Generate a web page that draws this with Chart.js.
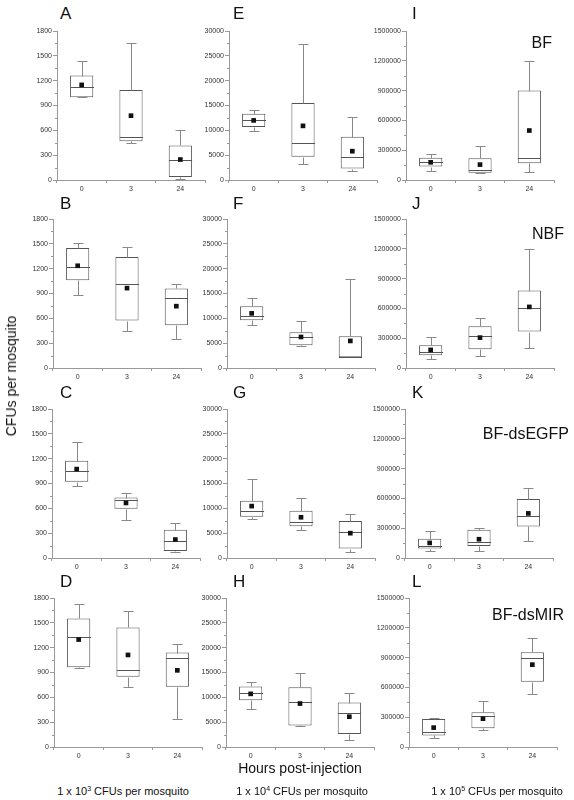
<!DOCTYPE html>
<html>
<head>
<meta charset="utf-8">
<script src="https://cdn.jsdelivr.net/npm/chart.js@4.4.0/dist/chart.umd.min.js"></script>
<style>
    body { margin: 0; background: #fff; font-family: "Liberation Sans", Arial, sans-serif; }
    #page { position: relative; width: 574px; height: 800px; overflow: hidden; }
    #page canvas { position: absolute; }
    .lbl { position: absolute; color: #111; white-space: nowrap; line-height: 1; }
</style>
</head>
<body>
<div id="page"></div>
<script>
// Hours post-injection (x categories)
const hours = ['0', '3', '24'];

// Each row: [min, q1, median, q3, max, mean] for 0, 3 and 24 h
const statsA = [[1000, 1000, 1120, 1262, 1432, 1149], [441, 469, 514, 1088, 1658, 777], [12, 36, 239, 417, 599, 247]];
const statsB = [[876, 1061, 1215, 1449, 1509, 1235], [444, 573, 1013, 1340, 1465, 965], [355, 517, 843, 961, 1013, 747]];
const statsC = [[864, 920, 1046, 1176, 1399, 1074], [458, 596, 705, 730, 786, 665], [77, 85, 207, 341, 426, 223]];
const statsD = [[959, 963, 1331, 1553, 1723, 1298], [724, 849, 934, 1444, 1646, 1112], [340, 728, 1076, 1141, 1250, 926]];

const statsE = [[9900, 10650, 12000, 13350, 14000, 12000], [3250, 4700, 7350, 15500, 27400, 10900], [1900, 2300, 4650, 8700, 12600, 5800]];
const statsF = [[8700, 9600, 10500, 12450, 14000, 11000], [4370, 4570, 6200, 7200, 9400, 6250], [2150, 2150, 2150, 6400, 17900, 5450]];
const statsG = [[7770, 8300, 9500, 11550, 15950, 10450], [5600, 6400, 7300, 9500, 12100, 8200], [1200, 1900, 5250, 7450, 8900, 5000]];
const statsH = [[7600, 9400, 10950, 12200, 13050, 10700], [4200, 4350, 9150, 12050, 14900, 8750], [1500, 2600, 6900, 8950, 10950, 6100]];

const statsI = [[90000, 135000, 182000, 225000, 265000, 178000], [70000, 74000, 104000, 218000, 340000, 155000], [80000, 168000, 218000, 900000, 1195000, 498000]];
const statsJ = [[87000, 128000, 165000, 229000, 309000, 182000], [118000, 188000, 320000, 420000, 501000, 306000], [198000, 367000, 609000, 780000, 1197000, 615000]];
const statsK = [[74000, 95000, 122000, 193000, 270000, 152000], [68000, 122000, 159000, 284000, 304000, 189000], [172000, 318000, 426000, 595000, 703000, 449000]];
const statsL = [[87000, 117000, 148000, 282000, 295000, 195000], [168000, 188000, 312000, 349000, 460000, 285000], [537000, 658000, 893000, 953000, 1100000, 829000]];

// y axis per column
const yMax = [1800, 30000, 1500000];
const yStep = [300, 5000, 300000];

const panelLetters = [['A', 'B', 'C', 'D'], ['E', 'F', 'G', 'H'], ['I', 'J', 'K', 'L']];
const groupNames = ['BF', 'NBF', 'BF-dsEGFP', 'BF-dsMIR'];
const doseExponents = ['3', '4', '5'];

const panelStats = [
    [statsA, statsB, statsC, statsD],
    [statsE, statsF, statsG, statsH],
    [statsI, statsJ, statsK, statsL]
];

// layout (pixels)
const axisLeft = [[57, 53, 52, 54], [229, 227, 227, 226], [406, 406, 405, 409]];
const rowTop = [31, 219, 409, 598];
const plotW = 148, plotH = 149;
const yAxisW = 45, xAxisH = 18, padTop = 6, padRight = 8;

const boxColor = '#555';
const whiskerColor = '#888';
const axisColor = '#999';

Chart.defaults.font.family = '"Liberation Sans", Arial, sans-serif';

const page = document.getElementById('page');

function addLabel(text, css) {
    const div = document.createElement('div');
    div.className = 'lbl';
    div.innerHTML = text;
    Object.assign(div.style, css);
    page.appendChild(div);
    return div;
}

/**
 * Whiskers, medians and minor y ticks for one panel
 */
function makeBoxPlugin(stats, step, max) {
    return {
        id: 'boxParts',
        afterDatasetDraw(chart, args) {
            if (args.index !== 0) return;
            const x = chart.scales.x, y = chart.scales.y;
            const ctx = chart.ctx;
            const meta = chart.getDatasetMeta(0);
            const py = v => Math.round(y.getPixelForValue(v)) + 0.5;
            ctx.save();
            ctx.lineWidth = 1;
            stats.forEach((s, i) => {
                const cx = Math.round(x.getPixelForValue(i)) + 0.5;
                const half = meta.data[i].width / 2;
                const cap = 5;
                ctx.strokeStyle = whiskerColor;
                ctx.beginPath();
                ctx.moveTo(cx, py(s[3]));
                ctx.lineTo(cx, py(s[4]));
                ctx.moveTo(cx, py(s[1]));
                ctx.lineTo(cx, py(s[0]));
                ctx.moveTo(cx - cap, py(s[4]));
                ctx.lineTo(cx + cap, py(s[4]));
                ctx.moveTo(cx - cap, py(s[0]));
                ctx.lineTo(cx + cap, py(s[0]));
                ctx.stroke();
                ctx.strokeStyle = boxColor;
                ctx.beginPath();
                ctx.moveTo(cx - half, py(s[2]));
                ctx.lineTo(cx + half, py(s[2]));
                ctx.stroke();
            });
            ctx.restore();
        },
        afterDraw(chart) {
            const y = chart.scales.y;
            const ctx = chart.ctx;
            const left = chart.chartArea.left;
            ctx.save();
            ctx.strokeStyle = axisColor;
            ctx.lineWidth = 1;
            ctx.beginPath();
            for (let v = step / 2; v < max; v += step) {
                const p = Math.round(y.getPixelForValue(v)) + 0.5;
                ctx.moveTo(left - 2, p);
                ctx.lineTo(left, p);
            }
            ctx.stroke();
            ctx.restore();
        }
    };
}

function createPanel(col, row) {
    const stats = panelStats[col][row];
    const canvas = document.createElement('canvas');
    canvas.width = yAxisW + plotW + padRight;
    canvas.height = padTop + plotH + xAxisH;
    canvas.style.left = (axisLeft[col][row] - yAxisW) + 'px';
    canvas.style.top = (rowTop[row] - padTop) + 'px';
    page.appendChild(canvas);

    new Chart(canvas.getContext('2d'), {
        type: 'bar',
        data: {
            labels: hours,
            datasets: [
                {
                    data: stats.map(s => [s[1], s[3]]),
                    backgroundColor: '#fff',
                    borderColor: boxColor,
                    borderWidth: 1,
                    borderSkipped: false,
                    barPercentage: 0.47,
                    categoryPercentage: 1,
                    order: 1
                },
                {
                    type: 'line',
                    data: stats.map(s => s[5]),
                    showLine: false,
                    pointStyle: 'rect',
                    pointRadius: 3.3,
                    pointBackgroundColor: '#111',
                    pointBorderWidth: 0,
                    order: 0
                }
            ]
        },
        options: {
            responsive: false,
            animation: false,
            layout: { padding: { top: padTop, right: padRight, left: 0, bottom: 0 } },
            plugins: {
                legend: { display: false },
                tooltip: { enabled: false }
            },
            scales: {
                x: {
                    offset: true,
                    grid: {
                        offset: true,
                        drawOnChartArea: false,
                        tickLength: 3,
                        color: axisColor
                    },
                    border: { color: axisColor },
                    ticks: { color: '#333', font: { size: 7 }, padding: 2 },
                    afterFit: scale => { scale.height = xAxisH; }
                },
                y: {
                    min: 0,
                    max: yMax[col],
                    grid: {
                        drawOnChartArea: false,
                        tickLength: 4,
                        color: axisColor
                    },
                    border: { color: axisColor },
                    ticks: {
                        stepSize: yStep[col],
                        color: '#333',
                        font: { size: 7 },
                        padding: 1,
                        callback: value => String(value)
                    },
                    afterFit: scale => { scale.width = yAxisW; }
                }
            }
        },
        plugins: [makeBoxPlugin(stats, yStep[col], yMax[col])]
    });
}

const letterLeft = [60, 233, 412];
const letterTop = [5, 195, 384, 573];
const groupRight = [22, 10, 5, 10];
const groupTop = [35, 226, 426, 607];
const doseCenter = [123, 302, 497];

for (let col = 0; col < 3; col++) {
    for (let row = 0; row < 4; row++) {
        createPanel(col, row);
        addLabel(panelLetters[col][row], {
            left: letterLeft[col] + 'px', top: letterTop[row] + 'px', fontSize: '17px'
        });
    }
    addLabel('1 x 10<span style="font-size:7px;vertical-align:4px">' + doseExponents[col] +
        '</span> CFUs per mosquito', {
        left: doseCenter[col] + 'px', top: '785px', fontSize: '11px', transform: 'translateX(-50%)'
    });
}

groupNames.forEach((name, row) => {
    addLabel(name, { right: groupRight[row] + 'px', top: groupTop[row] + 'px', fontSize: '16px' });
});

addLabel('Hours post-injection', {
    left: '300px', top: '761px', fontSize: '14px', transform: 'translateX(-50%)'
});
addLabel('CFUs per mosquito', {
    left: '11px', top: '376px', fontSize: '14px', transform: 'translate(-50%, -50%) rotate(-90deg)'
});
</script>
</body>
</html>
